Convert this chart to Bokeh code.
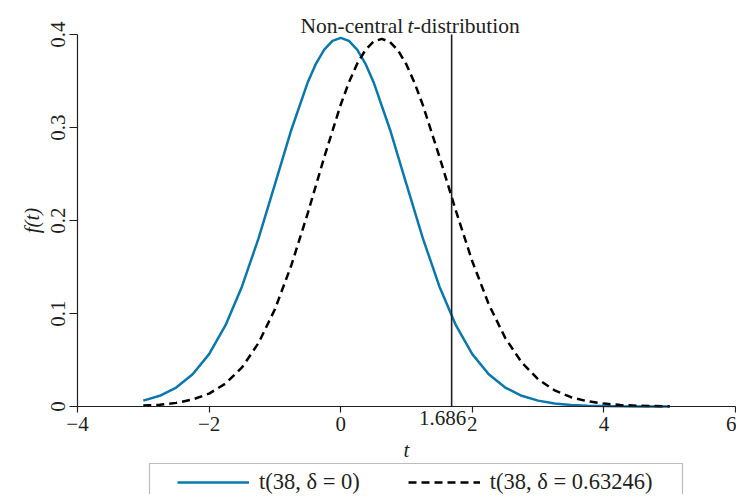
from bokeh.plotting import figure
from bokeh.models import Range1d, FixedTicker, Legend, LegendItem, Label, BoxAnnotation, LinearAxis
from bokeh.embed import file_html
from bokeh.resources import INLINE

# ---- data ----
x_central = [-3, -2.75, -2.5, -2.25, -2, -1.75, -1.5, -1.25, -1, -0.75, -0.5, -0.375, -0.25, -0.125,
             0, 0.125, 0.25, 0.375, 0.5, 0.75, 1, 1.25, 1.5, 1.75, 2, 2.25, 2.5, 2.75, 3,
             3.25, 3.5, 3.75, 4, 4.25, 4.5, 4.75, 5]
f_central = [0.0063, 0.0115, 0.0204, 0.0347, 0.0563, 0.0874, 0.1291, 0.1806, 0.2388, 0.2976, 0.3487, 0.3688, 0.3838, 0.3931,
             0.3963, 0.3931, 0.3838, 0.3688, 0.3487, 0.2976, 0.2388, 0.1806, 0.1291, 0.0874, 0.0563, 0.0347, 0.0204, 0.0115, 0.0063,
             0.0033, 0.0017, 0.00085, 0.00042, 0.0002, 0.0001, 0.00004, 0.00002]

x_noncentral = [-3, -2.75, -2.5, -2.25, -2, -1.75, -1.5, -1.25, -1, -0.75, -0.5, -0.25, 0, 0.125, 0.25, 0.375,
                0.5, 0.625, 0.75, 0.875, 1, 1.125, 1.25, 1.5, 1.75, 2, 2.25, 2.5, 2.75, 3,
                3.25, 3.5, 3.75, 4, 4.25, 4.5, 4.75, 5]
f_noncentral = [0.00096, 0.00195, 0.0039, 0.0075, 0.0139, 0.0247, 0.0420, 0.0681, 0.1045, 0.1519, 0.2080, 0.2681, 0.3245, 0.3486, 0.3685, 0.3833,
                0.3924, 0.3953, 0.3919, 0.3825, 0.3675, 0.3476, 0.3238, 0.2687, 0.2105, 0.1561, 0.1099, 0.0738, 0.0474, 0.0292,
                0.0174, 0.0100, 0.0056, 0.0031, 0.0016, 0.00086, 0.00045, 0.00023]

t_critical = 1.686
x_min, x_max = -4, 6
y_min, y_max = 0, 0.4
x_ticks = [-4, -2, 0, 2, 4, 6]
y_ticks = [0, 0.1, 0.2, 0.3, 0.4]
label_central = "t(38, δ = 0)"
label_noncentral = "t(38, δ = 0.63246)"

FONT = "'Liberation Serif', 'DejaVu Serif', serif"
INK = "#231f20"
BLUE = "#0a78ac"

# ---- layout (pixels) ----
W, H = 736, 494
PX_LEFT, PX_RIGHT = 77, 735      # x_min, x_max
PX_TOP, PX_BOTTOM = 34, 406      # y_max, y_min
sx = (PX_RIGHT - PX_LEFT) / (x_max - x_min)
sy = (PX_BOTTOM - PX_TOP) / (y_max - y_min)
xr = Range1d(x_min - PX_LEFT / sx, x_max + (W - PX_RIGHT) / sx)
yr = Range1d(y_min - (H - PX_BOTTOM) / sy, y_max + PX_TOP / sy)

def dx(px):  # page px -> data x
    return xr.start + px / sx

def dy(py):  # page px -> data y
    return yr.end - py / sy

p = figure(width=W, height=H, output_backend="svg", toolbar_location=None,
           x_range=xr, y_range=yr, x_axis_location=None, y_axis_location=None,
           min_border=0)
p.outline_line_color = None
p.grid.visible = False
p.background_fill_color = "white"
p.border_fill_color = "white"

xaxis = LinearAxis(fixed_location=y_min, bounds=(x_min, x_max), ticker=FixedTicker(ticks=x_ticks),
                   axis_label="t", major_label_overrides={-4.0: "\u22124", -2.0: "\u22122"})
yaxis = LinearAxis(fixed_location=x_min, bounds=(y_min, y_max), ticker=FixedTicker(ticks=y_ticks),
                   axis_label="f(t)", major_label_overrides={0.0: "0"}, major_label_orientation="vertical")
for ax in (xaxis, yaxis):
    ax.axis_line_color = INK
    ax.axis_line_width = 1.2
    ax.major_tick_line_color = INK
    ax.major_tick_line_width = 1.2
    ax.major_tick_in = 0
    ax.minor_tick_line_color = None
    ax.major_label_text_font = FONT
    ax.major_label_text_font_size = "21px"
    ax.major_label_text_color = INK
    ax.axis_label_text_font = FONT
    ax.axis_label_text_font_size = "21px"
    ax.axis_label_text_font_style = "italic"
    ax.axis_label_text_color = INK
xaxis.major_tick_out = 6
yaxis.major_tick_out = 8
xaxis.major_label_standoff = 4
yaxis.major_label_standoff = 5
xaxis.axis_label_standoff = 4
yaxis.axis_label_standoff = 4
p.add_layout(xaxis, "below")
p.add_layout(yaxis, "left")

# curves
r1 = p.line(x_central, f_central, line_color=BLUE, line_width=2.5)
r2 = p.line(x_noncentral, f_noncentral, line_color="black", line_width=2.5, line_dash="8 5")

# critical value line and its label
p.segment(x0=[t_critical], y0=[y_min], x1=[t_critical], y1=[y_max], line_color=INK, line_width=1.6)
p.add_layout(Label(x=t_critical, y=y_min, text=f"{t_critical:.3f}", text_align="center", text_baseline="top",
                   x_offset=-9, y_offset=-4, text_font=FONT, text_font_size="21px", text_color=INK))

# title (mixed upright / italic)
title_parts = [("Non-central ", "normal", 0), ("t", "italic", 107), ("-distribution", "normal", 113)]
for txt, style, off in title_parts:
    p.add_layout(Label(x=dx(300 + off), y=dy(25), text=txt, text_align="left",
                       text_baseline="alphabetic", text_font=FONT, text_font_style=style,
                       text_font_size="21.5px", text_color=INK))

# legend box + legend
p.add_layout(BoxAnnotation(left=dx(149), right=dx(682), top=dy(463), bottom=dy(H + 20),
                           fill_alpha=0, line_color=INK, line_width=1.2))
legend = Legend(items=[LegendItem(label=label_central, renderers=[r1]),
                       LegendItem(label=label_noncentral, renderers=[r2])],
                orientation="horizontal", location=(177, H - 495),
                glyph_width=72, label_standoff=10, spacing=48, padding=8,
                label_text_font=FONT, label_text_font_size="22.5px", label_text_color=INK,
                border_line_color=None, background_fill_alpha=0)
p.add_layout(legend, "center")

open("out.html", "w").write(file_html(p, INLINE))
